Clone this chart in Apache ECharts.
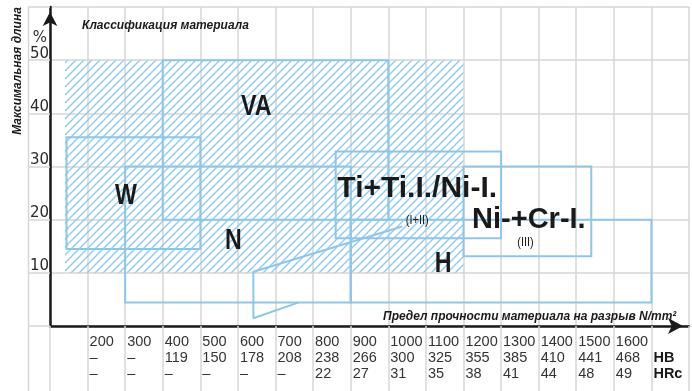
<!DOCTYPE html>
<html><head><meta charset="utf-8">
<script src="https://cdn.jsdelivr.net/npm/echarts@6/dist/echarts.min.js"></script>
<style>html,body{margin:0;padding:0;background:#fff}#c{width:692px;height:391px}</style>
</head><body><div id="c"></div>
<script>
// ---- data ----
const strengthTicks = [200,300,400,500,600,700,800,900,1000,1100,1200,1300,1400,1500,1600];
const hbValues  = ['–','–','119','150','178','208','238','266','300','325','355','385','410','441','468'];
const hrcValues = ['–','–','–','–','–','–','22','27','31','35','38','41','44','48','49'];
const elongationTicks = [10,20,30,40,50];

// regions: [strength from, strength to, elongation low, elongation high]
const hatchZone = [140, 1200, 10, 50];
const regionVA  = [400, 1000, 20, 50];
const regionW   = [144, 500, 14.5, 35.5];
const regionN   = [300, 900, 4.4, 30];
const regionH   = [900, 1700, 4.4, 20];
const regionTi  = [860, 1300, 16.5, 32.8];
const regionNiCr= [1200, 1540, 13.1, 30];

// callout pointer (strength, elongation)
const calloutX = [1037, 641, 641, 760];
const calloutY = [18.7, 10.2, 1.45, 4.4];

// region labels
const labelTexts = ['VA','W','N','Ti+Ti.I./Ni-I.','(I+II)','Ni-+Cr-I.','(III)','H'];
const labelX = [649, 302, 588, 1077, 1077, 1374, 1365, 1146];
const labelY = [41.2, 24.5, 15.9, 25.9, 19.8, 19.9, 15.7, 11.7];

// ---- styles ----
const BLUE = '#8ec6ea';
const GRID = '#d6d6d6';
const INK = '#1a1a1a';
const SANS = "'Liberation Sans',Arial,sans-serif";

function hatchCanvas(){
  const s = 8;
  const c = document.createElement('canvas');
  c.width = s; c.height = s;
  const g = c.getContext('2d');
  g.strokeStyle = '#8fcaef'; g.lineWidth = 1.4;
  g.beginPath();
  g.moveTo(-1, s+1); g.lineTo(s+1, -1);
  g.moveTo(-1, 1); g.lineTo(1, -1);
  g.moveTo(s-1, s+1); g.lineTo(s+1, s-1);
  g.stroke();
  return c;
}
const hatchPattern = {image: hatchCanvas(), repeat: 'repeat'};

function rectSeries(rect, fill, stroke, z){
  return {
    type: 'custom', z: z, silent: true,
    data: [rect],
    renderItem: function(params, api){
      const p1 = api.coord([api.value(0), api.value(3)]);
      const p2 = api.coord([api.value(1), api.value(2)]);
      return {type:'rect',
        shape:{x:p1[0], y:p1[1], width:p2[0]-p1[0], height:p2[1]-p1[1]},
        style:{fill: fill, stroke: stroke, lineWidth: stroke ? 2 : 0}};
    }
  };
}

function labelLook(t){
  if (t.length <= 2) return {font: "bold 29px 'Liberation Sans', Arial, sans-serif", sx: 0.8};
  if (t[0] === '(') return {font: "13px 'Liberation Sans', Arial, sans-serif", sx: 0.85};
  return {font: "bold " + (t.length > 10 ? 30 : 29) + "px 'Liberation Sans', Arial, sans-serif", sx: 1};
}

const chart = echarts.init(document.getElementById('c'), null, {renderer:'canvas'});
chart.setOption({
  animation: false,
  backgroundColor: '#fff',
  grid: {left: 50, right: -2, top: 7, bottom: 65, containLabel: false},
  title: [
    {text: 'Классификация материала', left: 77, top: 15,
     textStyle:{fontFamily: SANS, fontStyle:'italic', fontWeight:'bold', fontSize:12, color: INK}},
    {text: 'Предел прочности материала на разрыв N/mm²', left: 378, top: 306,
     textStyle:{fontFamily: SANS, fontStyle:'italic', fontWeight:'bold', fontSize:12, color: INK}}
  ],
  graphic: [
    {type:'line', shape:{x1:28.5, y1:7, x2:28.5, y2:391}, style:{stroke: GRID, lineWidth:1.5}, z: 0},
    {type:'text', x: 17.5, y: 71, rotation: Math.PI/2,
     style:{text:'Максимальная длина', textAlign:'center', textVerticalAlign:'middle',
            font:"italic bold 12px 'Liberation Sans', Arial, sans-serif", fill: INK}},
    {type:'text', x: 40, y: 38,
     style:{text:'%', textAlign:'center', textVerticalAlign:'middle',
            font:"15px 'DejaVu Sans', sans-serif", fill: '#333'}}
  ],
  xAxis: {
    type:'value', min:100, max:1800, interval:100,
    axisLine:{show:true, onZero:false, lineStyle:{color: INK, width:2.5},
      symbol:['none','arrow'], symbolSize:[12,15], symbolOffset:[0,-6]},
    axisTick:{show:true, length:65, inside:false, lineStyle:{color: GRID, width:1.5}},
    splitLine:{show:true, lineStyle:{color: GRID, width:1.5}},
    axisLabel:{
      show:true, align:'left', margin:8, padding:[0,0,0,2],
      fontFamily: SANS, fontSize:14.5, lineHeight:16, color:'#333',
      rich:{b:{fontFamily: SANS, fontWeight:'bold', fontSize:14.5, lineHeight:16, color: INK}},
      formatter: function(v){
        const i = strengthTicks.indexOf(v);
        if (i >= 0) return strengthTicks[i] + '\n' + hbValues[i] + '\n' + hrcValues[i];
        if (v === 1700) return ' \n{b|HB}\n{b|HRc}';
        return '';
      }
    }
  },
  yAxis: {
    type:'value', min:0, max:60, interval:10,
    axisLine:{show:true, onZero:false, lineStyle:{color: INK, width:2.5},
      symbol:['none','arrow'], symbolSize:[11,14], symbolOffset:[0,-5]},
    axisTick:{show:true, length:22, inside:false, lineStyle:{color: GRID, width:1.5}},
    splitLine:{show:true, lineStyle:{color: GRID, width:1.5}},
    axisLabel:{
      show:true, align:'right', verticalAlign:'bottom', margin:1, lineHeight:13,
      fontFamily:"'DejaVu Sans',sans-serif", fontSize:15, color:'#2a2a2a',
      formatter: function(v){ return elongationTicks.indexOf(v) >= 0 ? String(v) : ''; }
    }
  },
  series: [
    rectSeries(hatchZone, hatchPattern, null, 1),
    rectSeries(regionVA, 'none', BLUE, 3),
    rectSeries(regionW, 'none', BLUE, 3),
    rectSeries(regionN, 'none', BLUE, 3),
    rectSeries(regionH, 'none', BLUE, 3),
    rectSeries(regionTi, 'none', BLUE, 3),
    rectSeries(regionNiCr, 'none', BLUE, 3),
    {
      type:'line', z:3, silent:true, symbol:'none',
      lineStyle:{color: BLUE, width:2},
      data: calloutX.map(function(x, i){ return [x, calloutY[i]]; })
    },
    {
      type:'custom', z:5, silent:true,
      data: labelTexts.map(function(t, i){ return [labelX[i], labelY[i], i]; }),
      renderItem: function(params, api){
        const p = api.coord([api.value(0), api.value(1)]);
        const t = labelTexts[api.value(2)];
        const look = labelLook(t);
        return {type:'text', x:p[0], y:p[1], scaleX: look.sx,
          style:{text:t, font: look.font, fill: INK, align:'center', verticalAlign:'middle'}};
      }
    }
  ]
});
</script>
</body></html>
